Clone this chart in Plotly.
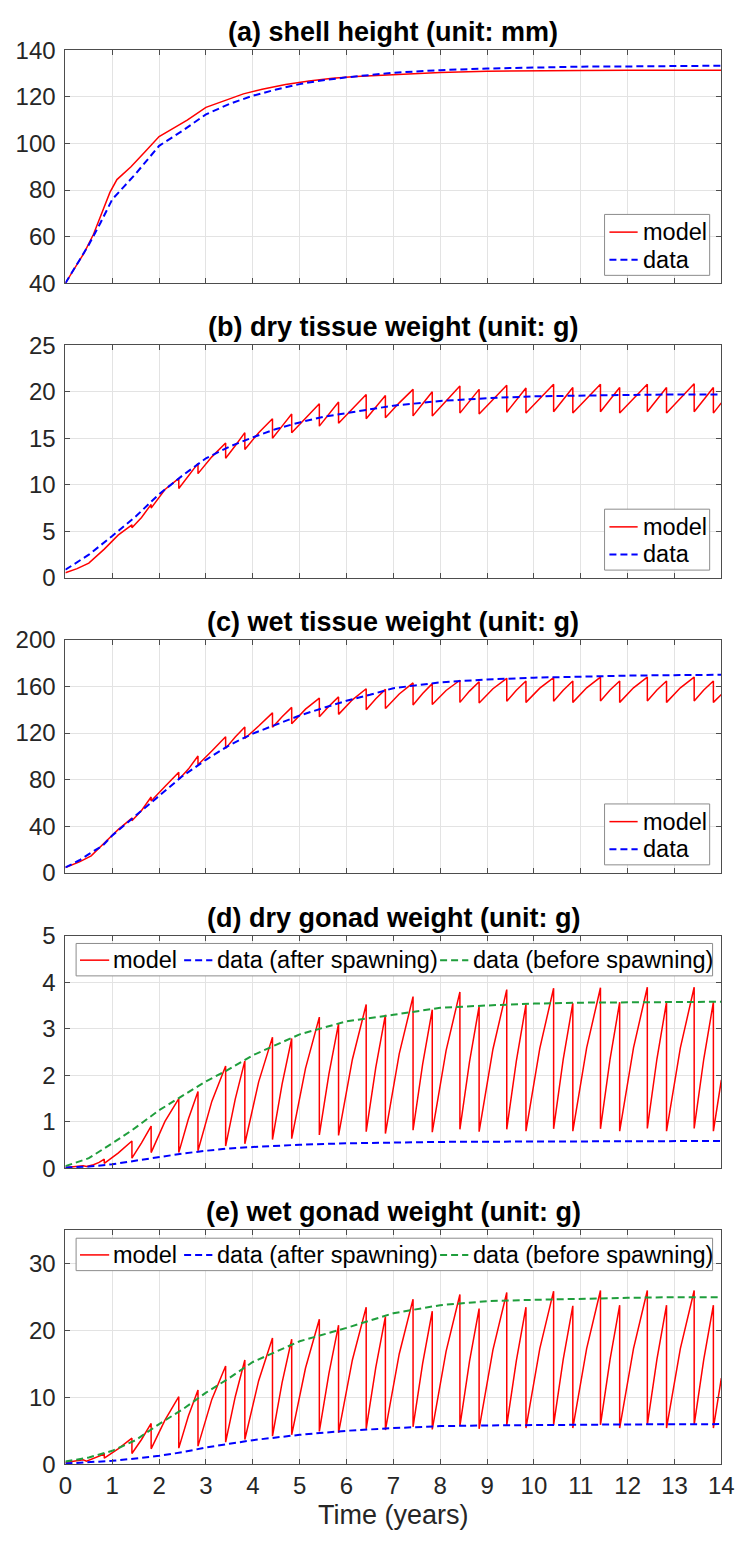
import plotly.graph_objects as go

# ---------------- data ----------------
# spawning events (years) shared by the model curves
SPAWN_T = [0.83, 1.42, 1.83, 2.42, 2.83, 3.42, 3.83, 4.42, 4.83, 5.42, 5.83, 6.42, 6.83,
           7.42, 7.83, 8.42, 8.83, 9.42, 9.83, 10.42, 10.83, 11.42, 11.83, 12.42, 12.83,
           13.42, 13.83]
# times of the read intermediate point on each rising branch (before spawn 2..27)
MID_T = [1.125, 1.625, 2.125, 2.625, 3.125, 3.625, 4.125, 4.625, 5.125, 5.625, 6.125, 6.625,
         7.125, 7.625, 8.125, 8.625, 9.125, 9.625, 10.125, 10.625, 11.125, 11.625, 12.125,
         12.625, 13.125, 13.625]
END_T = 14.0

# (a) shell height
a_model_t = [0, 0.2, 0.4, 0.6, 0.8, 0.95, 1.1, 1.4, 1.7, 2.0, 2.3, 2.6, 3.0, 3.4, 3.8, 4.2,
             4.7, 5.2, 5.7, 6.2, 7, 8, 9, 10, 11, 12, 13, 14]
a_model_y = [40, 46.5, 53, 61, 71, 79, 84.5, 90, 96.5, 103, 106.5, 110, 115.5, 118.5, 121.3,
             123.3, 125.3, 126.8, 128, 128.8, 129.6, 130.5, 131, 131.3, 131.4, 131.5, 131.5, 131.5]
a_data_t = [0, 0.25, 0.5, 0.75, 1.0, 1.25, 1.5, 1.75, 2.0, 2.5, 3.0, 3.5, 4.0, 4.5, 5.0, 5.5,
            6.0, 7, 8, 9, 10, 11, 12, 13, 14]
a_data_y = [40, 48.5, 56.5, 66, 76, 81.5, 87, 93, 99, 105.5, 112.5, 117, 120.5, 123.2, 125.5,
            127.2, 128.4, 130.4, 131.5, 132.2, 132.7, 133, 133.1, 133.3, 133.4]

# (b) dry tissue weight
b_pre_t = [0, 0.25, 0.5, 0.65]
b_pre_y = [0.56, 1.0, 1.6, 2.3]
b_peak = [3.1, 5.7, 7.9, 10.7, 12.3, 14.5, 15.6, 17.1, 17.6, 18.7, 18.9, 19.7, 19.6, 20.25,
          20.0, 20.6, 20.25, 20.7, 20.4, 20.8, 20.45, 20.8, 20.45, 20.8, 20.45, 20.85, 20.45]
b_trough = [3.1, 5.4, 7.5, 9.6, 11.2, 12.85, 13.8, 15.0, 15.6, 16.3, 16.6, 17.1, 17.2, 17.4,
            17.4, 17.7, 17.6, 17.8, 17.7, 17.85, 17.7, 17.85, 17.7, 17.85, 17.7, 17.85, 17.7]
b_mid = [4.6, 6.5, 9.5, 10.9, 13.0, 14.2, 15.6, 16.3, 17.2, 17.6, 18.2, 18.4, 18.8, 18.7,
         19.0, 19.0, 19.2, 19.1, 19.3, 19.2, 19.3, 19.2, 19.3, 19.2, 19.3, 19.2]
b_end = 18.8
b_data_t = [0, 0.5, 1.0, 1.5, 2.0, 2.5, 3.0, 3.5, 4.0, 4.5, 5.0, 5.5, 6.0, 7, 8, 9, 10, 11, 12, 13, 14]
b_data_y = [0.88, 2.5, 4.5, 6.6, 9.0, 11.0, 12.85, 14.1, 15.1, 16.0, 16.7, 17.3, 17.7, 18.5,
            19.0, 19.3, 19.5, 19.6, 19.65, 19.7, 19.7]

# (c) wet tissue weight
c_pre_t = [0, 0.3, 0.55, 0.7]
c_pre_y = [4.5, 9.3, 14.5, 20]
c_peak = [25.5, 46.9, 65, 86.2, 100.3, 116.7, 125.1, 137.3, 142, 150, 151, 158, 157.5, 163,
          162.4, 165.3, 164.1, 167, 164.7, 167.5, 164.7, 168, 164.7, 168, 164.7, 168, 164.7]
c_trough = [25.5, 44.6, 61.6, 80, 92.7, 106.8, 115.3, 125, 128, 134, 136, 140, 141, 144,
            144.4, 146.3, 145.8, 147.2, 146.3, 147.2, 146.3, 147.5, 146.3, 147.5, 146.3, 147.5, 146.3]
c_mid = [37, 53.5, 74, 89, 104.5, 116.5, 126, 134, 140.5, 143, 148.5, 149.5, 153.5, 154,
         156.5, 156, 158, 156.8, 158.5, 156.8, 158.8, 157, 158.8, 157, 158.8, 157]
c_end = 153
c_data_t = [0, 0.3, 0.5, 0.8, 1.0, 1.5, 2.0, 2.5, 3.0, 3.5, 4.0, 4.5, 5.0, 5.5, 6.0, 6.5, 7.0,
            8, 9, 10, 11, 12, 13, 14]
c_data_y = [4.5, 10.7, 16, 23.4, 32, 49, 66, 83, 97, 109.6, 119.5, 127.4, 135, 141.5, 147.7,
            152.8, 158.5, 163.5, 166, 167.5, 168.6, 169.3, 169.7, 170]

# (d) dry gonad weight
d_pre_t = [0, 0.2, 0.38, 0.45, 0.6, 0.72]
d_pre_y = [0.02, 0.04, 0.06, 0.04, 0.08, 0.13]
d_peak = [0.20, 0.59, 0.91, 1.50, 1.65, 2.20, 2.31, 2.82, 2.79, 3.25, 3.11, 3.52, 3.30, 3.69,
          3.41, 3.79, 3.48, 3.84, 3.52, 3.87, 3.55, 3.88, 3.57, 3.89, 3.57, 3.89, 3.57]
d_trough = [0.11, 0.22, 0.34, 0.34, 0.38, 0.48, 0.53, 0.62, 0.64, 0.72, 0.71, 0.79, 0.75, 0.82,
            0.78, 0.84, 0.79, 0.84, 0.80, 0.85, 0.80, 0.85, 0.80, 0.86, 0.80, 0.86, 0.80]
d_mid = [0.33, 0.55, 1.01, 1.06, 1.44, 1.49, 1.86, 1.81, 2.15, 2.03, 2.34, 2.17, 2.46, 2.24,
         2.53, 2.29, 2.56, 2.31, 2.58, 2.34, 2.59, 2.35, 2.59, 2.35, 2.59, 2.35]
d_end = 1.90
d_after_t = [0, 0.5, 1, 1.5, 2, 2.5, 3, 3.5, 4, 5, 6, 7, 8, 9, 10, 12, 14]
d_after_y = [0.02, 0.04, 0.09, 0.17, 0.25, 0.32, 0.38, 0.43, 0.46, 0.51, 0.54, 0.56, 0.57,
             0.575, 0.58, 0.585, 0.59]
d_before_t = [0, 0.5, 1.0, 1.42, 2.0, 2.42, 3.0, 3.42, 4.0, 5.0, 6.0, 7.0, 8, 9, 10, 11, 12, 13, 14]
d_before_y = [0.05, 0.22, 0.54, 0.82, 1.25, 1.51, 1.87, 2.09, 2.43, 2.88, 3.16, 3.30, 3.45,
              3.50, 3.54, 3.56, 3.57, 3.575, 3.58]

# (e) wet gonad weight
e_pre_t = [0, 0.2, 0.38, 0.45, 0.6, 0.72]
e_pre_y = [0.25, 0.45, 0.65, 0.45, 0.85, 1.15]
e_peak = [1.5, 3.9, 6.1, 10.1, 11.1, 14.7, 15.6, 18.9, 18.7, 21.7, 20.8, 23.5, 22.1, 24.7,
          22.9, 25.4, 23.3, 25.7, 23.5, 25.9, 23.7, 26.0, 23.8, 26.0, 23.8, 26.0, 23.8]
e_trough = [0.9, 1.6, 2.3, 2.4, 2.7, 3.3, 3.7, 4.2, 4.4, 4.9, 4.7, 5.3, 5.1, 5.6, 5.2, 5.7,
            5.3, 5.8, 5.4, 5.9, 5.4, 5.9, 5.4, 5.9, 5.4, 5.9, 5.4]
e_mid = [2.3, 3.7, 6.6, 7.2, 9.7, 10.1, 12.5, 12.2, 14.4, 13.6, 15.6, 14.5, 16.5, 15.1, 16.9,
         15.4, 17.1, 15.5, 17.3, 15.7, 17.3, 15.7, 17.3, 15.7, 17.3, 15.7]
e_end = 12.9
e_after_t = [0, 0.5, 1, 1.5, 2, 2.5, 3, 3.5, 4, 5, 6, 7, 8, 9, 10, 11, 12, 14]
e_after_y = [0.1, 0.25, 0.5, 0.85, 1.25, 1.8, 2.5, 3.05, 3.6, 4.4, 5.0, 5.4, 5.7, 5.8, 5.9,
             5.9, 5.95, 6.0]
e_before_t = [0, 0.5, 1.0, 1.5, 2.0, 2.5, 3.0, 3.5, 4.0, 4.5, 5.0, 6.0, 7.0, 8, 9, 10, 11, 12, 13, 14]
e_before_y = [0.4, 1.0, 2.0, 3.6, 6.0, 8.2, 10.7, 12.9, 15.3, 16.9, 18.4, 20.4, 22.6, 23.8,
              24.4, 24.6, 24.8, 24.9, 25.0, 25.0]

TITLES = ["(a) shell height (unit: mm)", "(b) dry tissue weight (unit: g)",
          "(c) wet tissue weight (unit: g)", "(d) dry gonad weight (unit: g)",
          "(e) wet gonad weight (unit: g)"]
X_TICKS = list(range(0, 15))
Y_RANGES = [[40, 140], [0, 25], [0, 200], [0, 5], [0, 35]]
Y_TICKS = [[40, 60, 80, 100, 120, 140], [0, 5, 10, 15, 20, 25], [0, 40, 80, 120, 160, 200],
           [0, 1, 2, 3, 4, 5], [0, 10, 20, 30]]
LEGEND_2 = ["model", "data"]
LEGEND_3 = ["model", "data (after spawning)", "data (before spawning)"]


def sawtooth(pre_t, pre_y, peaks, troughs, mids, end_y):
    t, y = list(pre_t), list(pre_y)
    for i, s in enumerate(SPAWN_T):
        if i > 0:
            t.append(MID_T[i - 1])
            y.append(mids[i - 1])
        t += [s, s]
        y += [peaks[i], troughs[i]]
    t.append(END_T)
    y.append(end_y)
    return t, y


# ---------------- styling ----------------
W, H = 747, 1544
FONT = "Liberation Sans, Arial, Helvetica, sans-serif"
RED, BLUE, GREEN = "#ff0000", "#0000ff", "#1f9e3c"
DASH = "7px,4px"
X0, X1 = 60, 734
PANEL_TOP = [37, 337, 637, 938, 1238]
PANEL_BOT = [274, 574, 874, 1175, 1476]
LEG_SIZE = 23.5


def px(x):
    return x / W


def py(y):
    return 1 - y / H


fig = go.Figure()

models = [
    (a_model_t, a_model_y),
    sawtooth(b_pre_t, b_pre_y, b_peak, b_trough, b_mid, b_end),
    sawtooth(c_pre_t, c_pre_y, c_peak, c_trough, c_mid, c_end),
    sawtooth(d_pre_t, d_pre_y, d_peak, d_trough, d_mid, d_end),
    sawtooth(e_pre_t, e_pre_y, e_peak, e_trough, e_mid, e_end),
]
data_simple = [(a_data_t, a_data_y), (b_data_t, b_data_y), (c_data_t, c_data_y)]

for k in range(5):
    sfx = "" if k == 0 else str(k + 1)
    xa, ya = "x" + sfx, "y" + sfx
    mt, my = models[k]
    fig.add_trace(go.Scatter(x=mt, y=my, mode="lines", name="model", xaxis=xa, yaxis=ya,
                             line=dict(color=RED, width=1.5)))
    if k < 3:
        dt, dy = data_simple[k]
        fig.add_trace(go.Scatter(x=dt, y=dy, mode="lines", name="data", xaxis=xa, yaxis=ya,
                                 line=dict(color=BLUE, width=2, dash=DASH)))
    else:
        at, ay, bt, by = ((d_after_t, d_after_y, d_before_t, d_before_y) if k == 3
                          else (e_after_t, e_after_y, e_before_t, e_before_y))
        fig.add_trace(go.Scatter(x=at, y=ay, mode="lines", name="data (after spawning)",
                                 xaxis=xa, yaxis=ya, line=dict(color=BLUE, width=2, dash=DASH)))
        fig.add_trace(go.Scatter(x=bt, y=by, mode="lines", name="data (before spawning)",
                                 xaxis=xa, yaxis=ya, line=dict(color=GREEN, width=2, dash=DASH)))

layout = dict(
    width=W, height=H, margin=dict(l=0, r=0, t=0, b=0),
    paper_bgcolor="white", plot_bgcolor="white",
    font=dict(family=FONT, size=24, color="#262626"),
    showlegend=False,
)
axis_common = dict(showgrid=True, gridcolor="#e3e3e3", gridwidth=1, zeroline=False,
                   showline=True, linecolor="#4d4d4d", linewidth=1, mirror="ticks",
                   ticks="inside", ticklen=5, tickcolor="#4d4d4d",
                   tickfont=dict(family=FONT, size=24, color="#262626"))
annotations, shapes = [], []
LEG_BORDER = "#8c8c8c"


def legend_line(x0, x1, y, color, dash, width):
    shapes.append(dict(type="line", xref="paper", yref="paper", x0=px(x0), x1=px(x1),
                       y0=py(y), y1=py(y), layer="above",
                       line=dict(color=color, width=width, dash=dash)))


def legend_text(x, y, text):
    annotations.append(dict(text=text, x=px(x), y=py(y), xref="paper", yref="paper",
                            xanchor="left", yanchor="middle", showarrow=False, borderpad=0,
                            font=dict(family=FONT, size=LEG_SIZE, color="black")))


for k in range(5):
    sfx = "" if k == 0 else str(k + 1)
    top = py(PANEL_TOP[k])
    bot = py(PANEL_BOT[k])
    layout["xaxis" + sfx] = dict(axis_common, domain=[px(X0), px(X1)], anchor="y" + sfx,
                                 range=[0, 14], tickvals=X_TICKS, showticklabels=(k == 4),
                                 ticklabeloverflow="allow")
    layout["yaxis" + sfx] = dict(axis_common, domain=[bot, top], anchor="x" + sfx,
                                 range=Y_RANGES[k], tickvals=Y_TICKS[k],
                                 ticklabelstandoff=4)
    annotations.append(dict(text="<b>" + TITLES[k] + "</b>", x=px((X0 + X1) / 2), y=top,
                            xref="paper", yref="paper", xanchor="center", yanchor="bottom",
                            yshift=1, showarrow=False,
                            font=dict(family=FONT, size=27, color="black")))
    if k < 3:
        b_ = PANEL_BOT[k] - 8
        t_ = b_ - 62
        shapes.append(dict(type="rect", xref="paper", yref="paper", x0=px(614), x1=px(722),
                           y0=py(b_), y1=py(t_), layer="above", fillcolor="white",
                           line=dict(color=LEG_BORDER, width=1)))
        legend_line(619, 648, t_ + 18, RED, "solid", 1.5)
        legend_text(652, t_ + 18, LEGEND_2[0])
        legend_line(619, 648, t_ + 46, BLUE, DASH, 2)
        legend_text(652, t_ + 46, LEGEND_2[1])
    else:
        t_ = PANEL_TOP[k] + 8
        b_ = t_ + 33
        cy = t_ + 17
        shapes.append(dict(type="rect", xref="paper", yref="paper", x0=px(71), x1=px(725),
                           y0=py(b_), y1=py(t_), layer="above", fillcolor="white",
                           line=dict(color=LEG_BORDER, width=1)))
        legend_line(75, 105, cy, RED, "solid", 1.5)
        legend_text(108, cy, LEGEND_3[0])
        legend_line(182, 211, cy, BLUE, DASH, 2)
        legend_text(215, cy, LEGEND_3[1])
        legend_line(445, 474, cy, GREEN, DASH, 2)
        legend_text(478, cy, LEGEND_3[2])

annotations.append(dict(text="Time (years)", x=px((X0 + X1) / 2), y=py(1528),
                        xref="paper", yref="paper", xanchor="center", yanchor="middle",
                        showarrow=False, font=dict(family=FONT, size=27, color="#262626")))
layout["annotations"] = annotations
layout["shapes"] = shapes
fig.update_layout(**layout)

fig.write_html("out.html")
